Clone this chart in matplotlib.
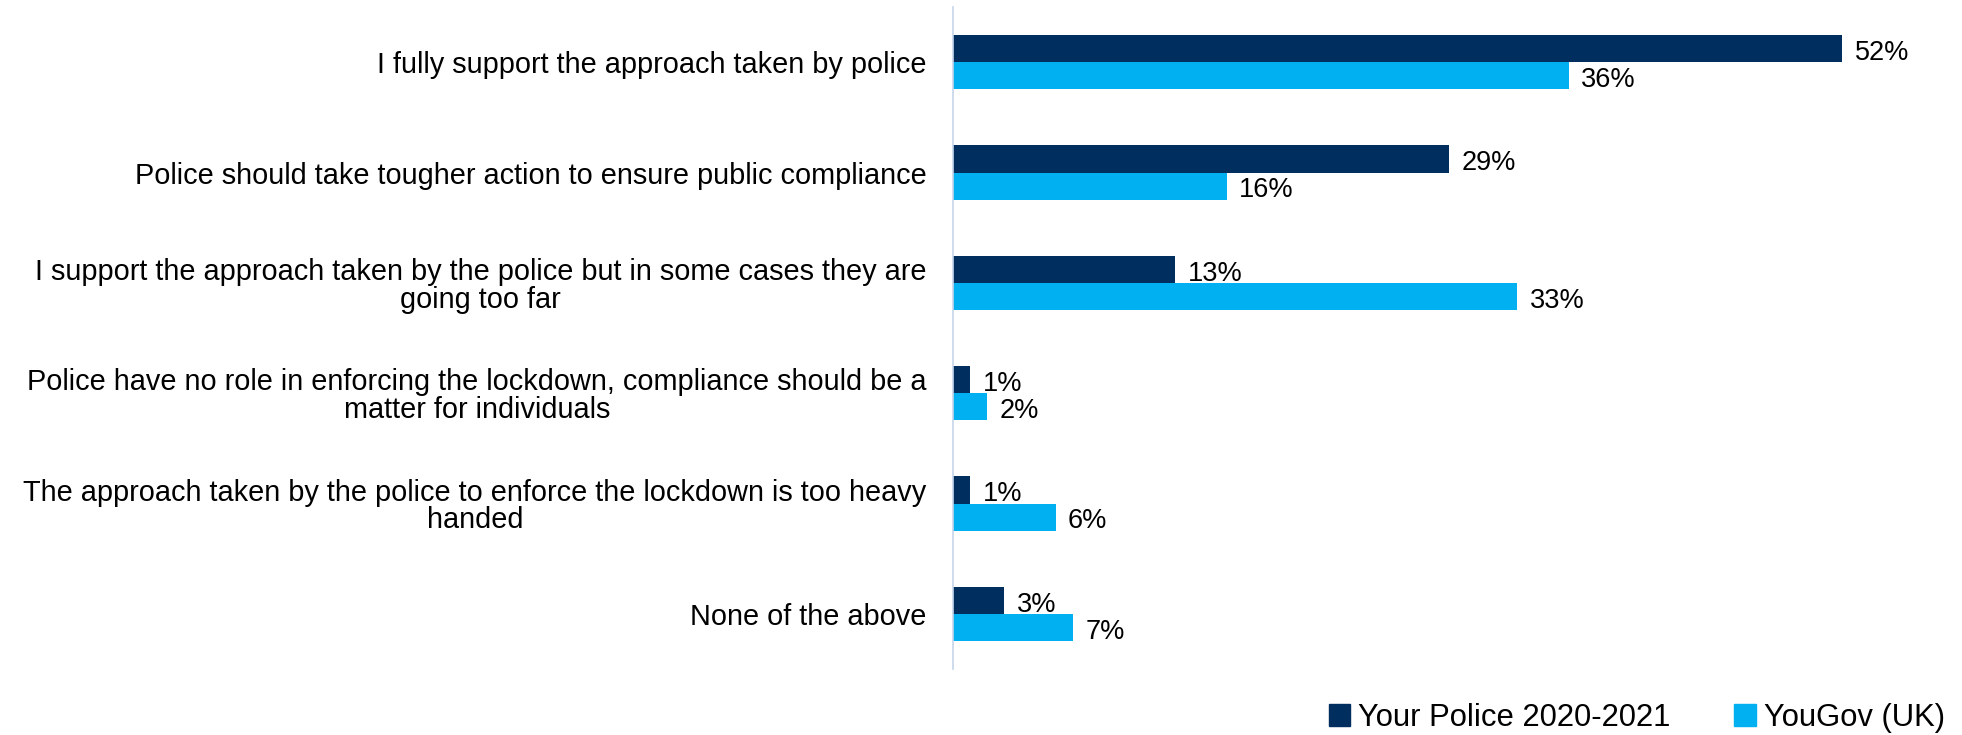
import matplotlib.pyplot as plt
from matplotlib.patches import Patch

plt.rcParams['font.family'] = ['Liberation Sans', 'DejaVu Sans']

categories = [
    "I fully support the approach taken by police",
    "Police should take tougher action to ensure public compliance",
    "I support the approach taken by the police but in some cases they are\ngoing too far",
    "Police have no role in enforcing the lockdown, compliance should be a\nmatter for individuals",
    "The approach taken by the police to enforce the lockdown is too heavy\nhanded",
    "None of the above",
]
your_police = [52, 29, 13, 1, 1, 3]
yougov = [36, 16, 33, 2, 6, 7]
series_names = ["Your Police 2020-2021", "YouGov (UK)"]

DARK = "#002F5F"
LIGHT = "#00B0F0"

fig = plt.figure(figsize=(19.62, 7.35), dpi=100)
ax = fig.add_axes([953 / 1962, 66 / 735, 992 / 1962, 662 / 735])

y = list(range(len(categories)))
h = 0.245
ax.barh([i - h / 2 for i in y], your_police, height=h, color=DARK)
ax.barh([i + h / 2 for i in y], yougov, height=h, color=LIGHT)

# percentage labels just past the end of each bar
for i in y:
    ax.annotate(f"{your_police[i]}%", (your_police[i], i - h / 2 + 0.04),
                xytext=(9, 0), textcoords="offset points",
                ha="left", va="center", fontsize=19.5)
    ax.annotate(f"{yougov[i]}%", (yougov[i], i + h / 2 + 0.04),
                xytext=(9, 0), textcoords="offset points",
                ha="left", va="center", fontsize=19.5)

ax.set_xlim(0, 58)
ax.set_ylim(len(categories) - 0.5, -0.5)
ax.set_yticks(y)
ax.set_yticklabels(categories, fontsize=20.8, multialignment="center", linespacing=1.0)
ax.tick_params(axis="y", length=0, pad=19)
ax.set_xticks([])
for side in ["top", "right", "bottom"]:
    ax.spines[side].set_visible(False)
ax.spines["left"].set_color("#C5D5EA")
ax.spines["left"].set_linewidth(1.2)

handles = [Patch(color=DARK), Patch(color=LIGHT)]
fig.legend(handles, series_names, loc="center right",
           bbox_to_anchor=(1945 / 1962, 1 - 718 / 735),
           ncol=2, frameon=False, fontsize=22.3, handlelength=0.7, handleheight=0.7,
           handletextpad=0.26, columnspacing=2.05, borderpad=0, borderaxespad=0)

fig.savefig("out.png", dpi=100)
